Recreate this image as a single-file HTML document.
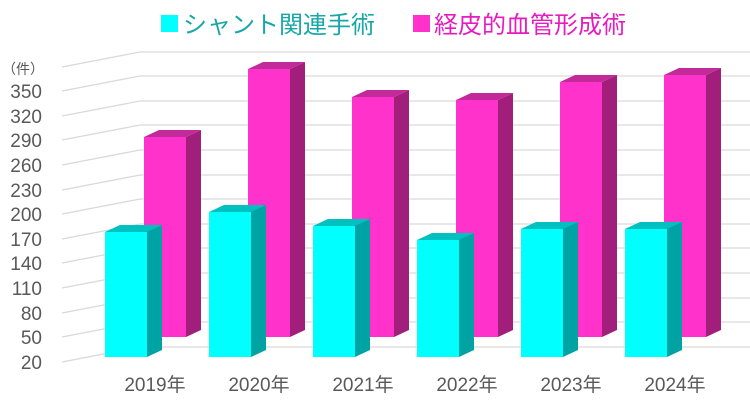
<!DOCTYPE html>
<html><head><meta charset="utf-8"><style>
body{margin:0;background:#fff}
svg{display:block}
text{font-family:"Liberation Sans","Noto Sans CJK JP",sans-serif}
</style></head><body>
<svg width="750" height="401" xmlns="http://www.w3.org/2000/svg">
<g stroke="#d9d9d9" stroke-width="1.3" fill="none">
<polyline points="62,67 140,52 750,52"/>
<polyline points="62,91 140,76 750,76"/>
<polyline points="62,116 140,101 750,101"/>
<polyline points="62,140 140,125 750,125"/>
<polyline points="62,165 140,150 750,150"/>
<polyline points="62,190 140,175 750,175"/>
<polyline points="62,214 140,199 750,199"/>
<polyline points="62,239 140,224 750,224"/>
<polyline points="62,263 140,248 750,248"/>
<polyline points="62,288 140,273 750,273"/>
<polyline points="62,313 140,298 750,298"/>
<polyline points="62,337 140,322 750,322"/>
<polyline points="62,362 140,347 750,347"/>
</g>
<g font-size="19" fill="#595959" text-anchor="end">
<text x="44" y="74" font-size="14">（件）</text>
<text x="42" y="98">350</text><text x="42" y="123">320</text><text x="42" y="147">290</text>
<text x="42" y="172">260</text><text x="42" y="197">230</text><text x="42" y="221">200</text>
<text x="42" y="246">170</text><text x="42" y="270">140</text><text x="42" y="295">110</text>
<text x="42" y="320">80</text><text x="42" y="344">50</text><text x="42" y="369">20</text>
</g>
<g fill="#a11e7b">
<polygon points="186,137 201,130 201,330 186,337"/>
<polygon points="290,69 305,62 305,330 290,337"/>
<polygon points="394,97 409,90 409,330 394,337"/>
<polygon points="498,100 513,93 513,330 498,337"/>
<polygon points="602,82 617,75 617,330 602,337"/>
<polygon points="706,75 721,68 721,330 706,337"/>
</g>
<g fill="#c22a9a">
<polygon points="144,137 159,130 201,130 186,137"/>
<polygon points="248,69 263,62 305,62 290,69"/>
<polygon points="352,97 367,90 409,90 394,97"/>
<polygon points="456,100 471,93 513,93 498,100"/>
<polygon points="560,82 575,75 617,75 602,82"/>
<polygon points="664,75 679,68 721,68 706,75"/>
</g>
<g fill="#ff33cc">
<rect x="144" y="137" width="42" height="200"/>
<rect x="248" y="69" width="42" height="268"/>
<rect x="352" y="97" width="42" height="240"/>
<rect x="456" y="100" width="42" height="237"/>
<rect x="560" y="82" width="42" height="255"/>
<rect x="664" y="75" width="42" height="262"/>
</g>
<g fill="#00a3a3">
<polygon points="147,232 162,225 162,350 147,357"/>
<polygon points="251,212 266,205 266,350 251,357"/>
<polygon points="355,226 370,219 370,350 355,357"/>
<polygon points="459,240 474,233 474,350 459,357"/>
<polygon points="563,229 578,222 578,350 563,357"/>
<polygon points="667,229 682,222 682,350 667,357"/>
</g>
<g fill="#00c0c0">
<polygon points="105,232 120,225 162,225 147,232"/>
<polygon points="209,212 224,205 266,205 251,212"/>
<polygon points="313,226 328,219 370,219 355,226"/>
<polygon points="417,240 432,233 474,233 459,240"/>
<polygon points="521,229 536,222 578,222 563,229"/>
<polygon points="625,229 640,222 682,222 667,229"/>
</g>
<g fill="#00ffff">
<rect x="105" y="232" width="42" height="125"/>
<rect x="209" y="212" width="42" height="145"/>
<rect x="313" y="226" width="42" height="131"/>
<rect x="417" y="240" width="42" height="117"/>
<rect x="521" y="229" width="42" height="128"/>
<rect x="625" y="229" width="42" height="128"/>
</g>
<g font-size="19" fill="#595959" text-anchor="middle">
<text x="155" y="391">2019年</text><text x="259" y="391">2020年</text><text x="363" y="391">2021年</text>
<text x="467" y="391">2022年</text><text x="571" y="391">2023年</text><text x="675" y="391">2024年</text>
</g>
<rect x="161" y="15" width="17" height="17" fill="#00ffff"/>
<text x="183" y="33" font-size="24" fill="#17a7a7">シャント関連手術</text>
<rect x="413" y="15" width="17" height="17" fill="#ff33cc"/>
<text x="434" y="33" font-size="24" fill="#e61cbf">経皮的血管形成術</text>
</svg>
</body></html>
